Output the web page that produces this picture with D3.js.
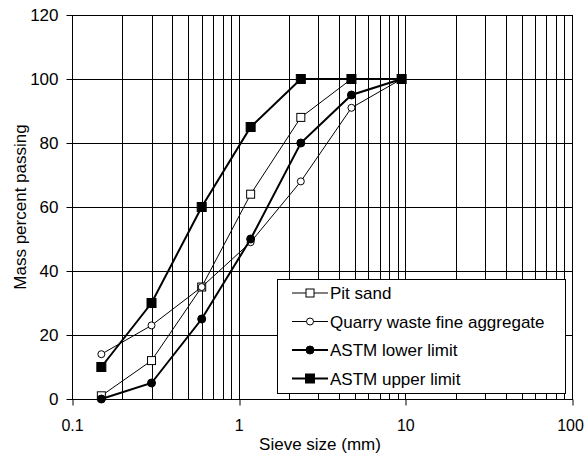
<!DOCTYPE html>
<html>
<head>
<meta charset="utf-8">
<script src="https://cdn.jsdelivr.net/npm/d3@7"></script>
<style>
  body { margin: 0; background: #fff; }
  text { font-family: Arial, "Liberation Sans", sans-serif; fill: #000; }
</style>
</head>
<body>
<svg id="chart" width="585" height="455"></svg>
<script>
// sieve sizes (mm)
const sieves = [0.15, 0.3, 0.6, 1.18, 2.36, 4.75, 9.5];
const pitSand = [1, 12, 35, 64, 88, 100, 100];
const quarryWaste = [14, 23, 35, 49, 68, 91, 100];
const astmLower = [0, 5, 25, 50, 80, 95, 100];
const astmUpper = [10, 30, 60, 85, 100, 100, 100];
const yTicks = [0, 20, 40, 60, 80, 100, 120];
const xTicks = [0.1, 1, 10, 100];

const series = [
  { name: "Pit sand", values: pitSand, marker: "square", fill: "#fff", width: 1 },
  { name: "Quarry waste fine aggregate", values: quarryWaste, marker: "circle", fill: "#fff", width: 1 },
  { name: "ASTM lower limit", values: astmLower, marker: "circle", fill: "#000", width: 2 },
  { name: "ASTM upper limit", values: astmUpper, marker: "square", fill: "#000", width: 2 }
];

const svg = d3.select("#chart");
const mLeft = 72, mRight = 572, mTop = 15, mBottom = 399;
const fontSize = 17;

const x = d3.scaleLog().domain([0.1, 100]).range([mLeft, mRight]);
const y = d3.scaleLinear().domain([0, 120]).range([mBottom, mTop]);

// vertical grid (all log ticks)
let gridX = [];
for (let dec = 0.1; dec < 100; dec *= 10) {
  for (let k = 1; k <= 9; k++) gridX.push(+(dec * k).toPrecision(3));
}
gridX.push(100);

svg.append("g")
  .selectAll("line")
  .data(gridX)
  .enter()
  .append("line")
  .attr("x1", d => Math.round(x(d)) + 0.5)
  .attr("x2", d => Math.round(x(d)) + 0.5)
  .attr("y1", mTop)
  .attr("y2", mBottom)
  .attr("stroke", "#000")
  .attr("stroke-width", 1);

svg.append("g")
  .selectAll("line")
  .data(yTicks)
  .enter()
  .append("line")
  .attr("x1", mLeft)
  .attr("x2", mRight)
  .attr("y1", d => Math.round(y(d)) + 0.5)
  .attr("y2", d => Math.round(y(d)) + 0.5)
  .attr("stroke", "#000")
  .attr("stroke-width", 1);

// axes
svg.append("g")
  .attr("transform", "translate(0," + (mBottom + 0.5) + ")")
  .call(d3.axisBottom(x).tickValues(xTicks).tickFormat(d3.format("")).tickSize(6).tickPadding(14))
  .call(g => g.select(".domain").remove())
  .call(g => g.selectAll("line").attr("transform", function(d) { return "translate(" + (Math.round(x(d)) + 0.5 - x(d)) + ",0)"; }))
  .call(g => g.selectAll("text").attr("font-size", 16).attr("font-family", "Arial, 'Liberation Sans', sans-serif").attr("fill", "#000"))
  .call(g => g.selectAll("text").filter(d => d === 100).attr("dx", -2));

svg.append("g")
  .attr("transform", "translate(" + (mLeft + 0.5) + ",0)")
  .call(d3.axisLeft(y).tickValues(yTicks).tickSize(6).tickPadding(8))
  .call(g => g.select(".domain").remove())
  .call(g => g.selectAll("text").attr("font-size", fontSize).attr("font-family", "Arial, 'Liberation Sans', sans-serif").attr("fill", "#000"));

svg.append("rect")
  .attr("x", mLeft + 0.5).attr("y", mTop + 0.5)
  .attr("width", mRight - mLeft).attr("height", mBottom - mTop)
  .attr("fill", "none").attr("stroke", "#000");

// series
const line = d3.line().x(d => x(d[0])).y(d => y(d[1]));
series.forEach(s => {
  const pts = sieves.map((v, i) => [v, s.values[i]]);
  const g = svg.append("g");
  g.append("path")
    .attr("d", line(pts))
    .attr("fill", "none")
    .attr("stroke", "#000")
    .attr("stroke-width", s.width);
  drawMarkers(g, pts.map(p => [x(p[0]), y(p[1])]), s);
});

function drawMarkers(g, pts, s) {
  if (s.marker === "square") {
    const size = s.fill === "#000" ? 9 : 8;
    g.selectAll("rect").data(pts).enter().append("rect")
      .attr("x", d => d[0] - size / 2).attr("y", d => d[1] - size / 2)
      .attr("width", size).attr("height", size)
      .attr("fill", s.fill).attr("stroke", "#000").attr("stroke-width", 1);
  } else {
    g.selectAll("circle").data(pts).enter().append("circle")
      .attr("cx", d => d[0]).attr("cy", d => d[1])
      .attr("r", s.fill === "#000" ? 4 : 3.5)
      .attr("fill", s.fill).attr("stroke", "#000").attr("stroke-width", 1);
  }
}

// legend
const legend = svg.append("g");
legend.append("rect")
  .attr("x", 277.5).attr("y", 279.5)
  .attr("width", 288).attr("height", 114)
  .attr("fill", "#fff").attr("stroke", "#000");

series.forEach((s, i) => {
  const ly = 293 + i * 28.5;
  legend.append("line")
    .attr("x1", 292).attr("x2", 328)
    .attr("y1", ly).attr("y2", ly)
    .attr("stroke", "#000").attr("stroke-width", s.width);
  drawMarkers(legend.append("g"), [[310, ly]], s);
  legend.append("text")
    .attr("x", 330).attr("y", ly + 6)
    .attr("font-size", fontSize)
    .text(s.name);
});

// axis titles
svg.append("text")
  .attr("x", 320).attr("y", 450)
  .attr("text-anchor", "middle")
  .attr("font-size", fontSize)
  .text("Sieve size (mm)");

svg.append("text")
  .attr("transform", "translate(26," + ((mTop + mBottom) / 2) + ") rotate(-90)")
  .attr("text-anchor", "middle")
  .attr("font-size", fontSize)
  .text("Mass percent passing");
</script>
</body>
</html>
